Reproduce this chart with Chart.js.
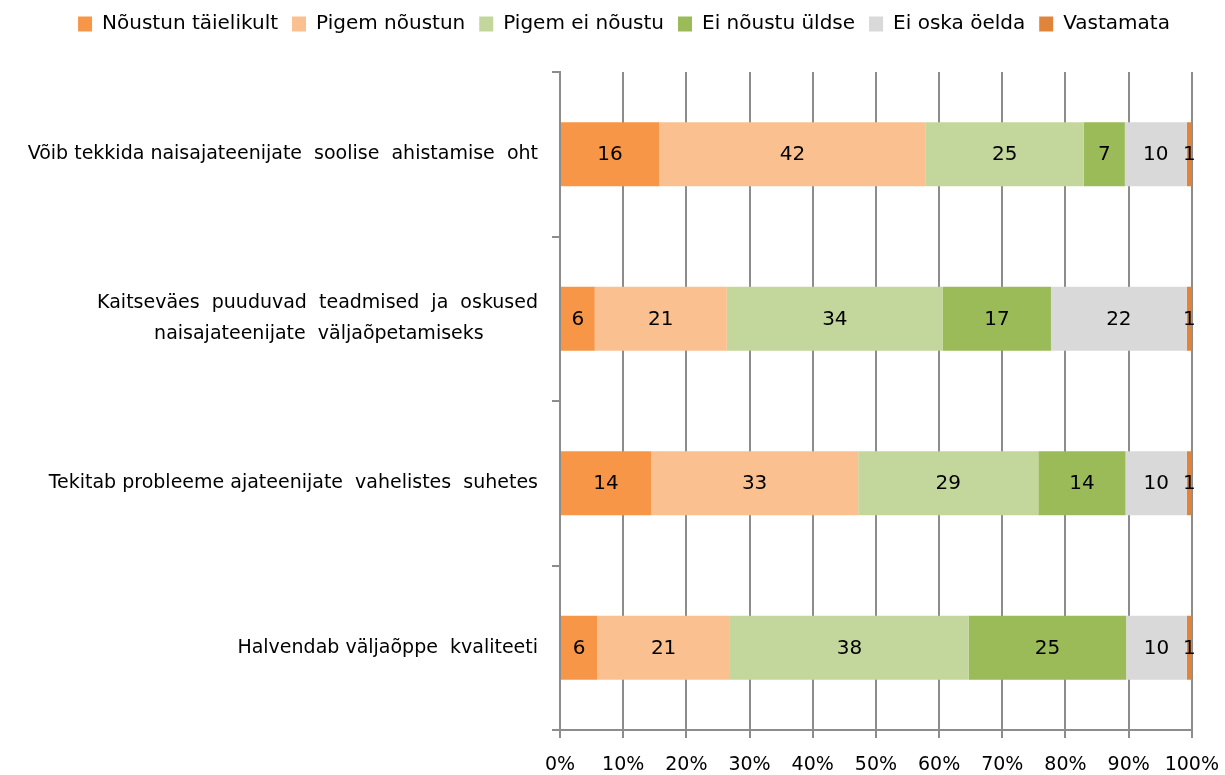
<!DOCTYPE html>
<html>
<head>
<meta charset="utf-8">
<script src="https://cdn.jsdelivr.net/npm/chart.js@4/dist/chart.umd.min.js"></script>
<style>
    body { margin: 0; background: #fff; }
    #wrap { width: 1225px; height: 775px; }
</style>
</head>
<body>
<div id="wrap"><canvas id="graafik" width="1225" height="775"></canvas></div>
<script>
const kategooriad = [
    'Võib tekkida naisajateenijate  soolise  ahistamise  oht',
    ['Kaitseväes  puuduvad  teadmised  ja  oskused', 'naisajateenijate  väljaõpetamiseks\u00A0\u00A0\u00A0\u00A0\u00A0\u00A0\u00A0\u00A0\u00A0'],
    'Tekitab probleeme ajateenijate  vahelistes  suhetes',
    'Halvendab väljaõppe  kvaliteeti'
]
const seeriad = ['Nõustun täielikult', 'Pigem nõustun', 'Pigem ei nõustu', 'Ei nõustu üldse', 'Ei oska öelda', 'Vastamata']
const varvid = ['#F79646', '#FAC090', '#C3D69B', '#9BBB59', '#D9D9D9', '#E0843C']

// protsendid (pildilt loetud)
const noustunTaielikult = [15.7, 5.5, 14.4, 5.9]
const pigemNoustun = [42.2, 20.9, 32.8, 21.0]
const pigemEiNoustu = [25.0, 34.2, 28.5, 37.8]
const eiNoustuYldse = [6.5, 17.1, 13.8, 24.9]
const eiOskaOelda = [9.8, 21.5, 9.7, 9.6]
const vastamata = [0.8, 0.8, 0.8, 0.8]

const xTikid = [0, 10, 20, 30, 40, 50, 60, 70, 80, 90, 100]

const vaartused = [noustunTaielikult, pigemNoustun, pigemEiNoustu, eiNoustuYldse, eiOskaOelda, vastamata]
const font = "'DejaVu Sans', sans-serif"

// Väärtuste sildid tulpade keskele
const sildid = {
    id: 'sildid',
    afterDatasetsDraw(chart) {
        const ctx = chart.ctx
        ctx.save()
        ctx.font = '20px ' + font
        ctx.fillStyle = '#000'
        ctx.textAlign = 'center'
        ctx.textBaseline = 'middle'
        chart.data.datasets.forEach((ds, i) => {
            chart.getDatasetMeta(i).data.forEach((el, j) => {
                const p = el.getProps(['x', 'y', 'base'], true)
                ctx.fillText(Math.round(ds.data[j]), (p.x + p.base) / 2, p.y + 1)
            })
        })
        ctx.restore()
    }
}

// Legendi kõrgus ja nihe paremale
const legendiVahe = {
    id: 'legendiVahe',
    beforeInit(chart) {
        const fit = chart.legend.fit
        chart.legend.fit = function () {
            fit.bind(chart.legend)()
            this.height += 28
        }
    },
    afterLayout(chart) {
        chart.legend.left += 25
        chart.legend.right += 25
    }
}

new Chart(document.getElementById('graafik').getContext('2d'), {
    type: 'bar',
    data: {
        labels: kategooriad,
        datasets: seeriad.map((nimi, i) => ({
            label: nimi,
            data: vaartused[i],
            backgroundColor: varvid[i],
            borderWidth: 0,
            barPercentage: 0.39,
            categoryPercentage: 1
        }))
    },
    options: {
        indexAxis: 'y',
        responsive: false,
        animation: false,
        layout: { padding: { top: 0, right: 27, bottom: 0, left: 0 } },
        plugins: {
            legend: {
                position: 'top',
                labels: {
                    boxWidth: 14,
                    boxHeight: 15,
                    padding: 14,
                    color: '#000',
                    font: { family: font, size: 20 }
                }
            },
            tooltip: { enabled: false }
        },
        scales: {
            x: {
                stacked: true,
                min: 0,
                max: 100,
                afterBuildTicks(scale) {
                    scale.ticks = xTikid.map(v => ({ value: v }))
                },
                afterFit(scale) { scale.height = 45 },
                ticks: {
                    callback: v => v + '%',
                    color: '#000',
                    padding: 6,
                    maxRotation: 0,
                    font: { family: font, size: 19, lineHeight: 2.2 }
                },
                grid: { color: '#8C8C8C', lineWidth: 2, tickLength: 8 },
                border: { color: '#8C8C8C', width: 2 }
            },
            y: {
                stacked: true,
                afterFit(scale) { scale.width = 560 },
                ticks: {
                    color: '#000',
                    padding: 14,
                    font: { family: font, size: 19, lineHeight: 1.6 }
                },
                grid: { offset: true, drawOnChartArea: false, color: '#8C8C8C', lineWidth: 2, tickLength: 8 },
                border: { color: '#8C8C8C', width: 2 }
            }
        }
    },
    plugins: [sildid, legendiVahe]
})
</script>
</body>
</html>
